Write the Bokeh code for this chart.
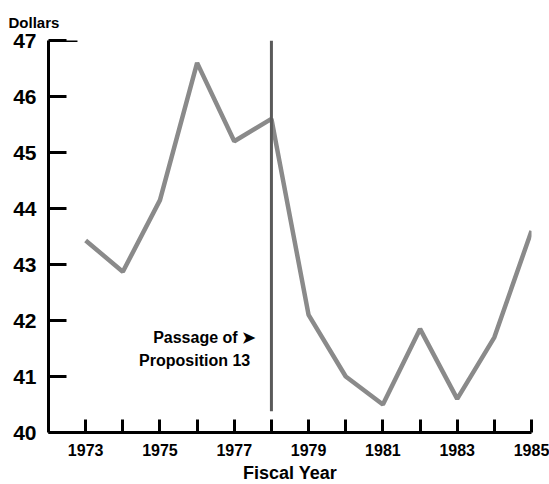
from bokeh.plotting import figure
from bokeh.models import Label, FixedTicker, Range1d, Title
from bokeh.embed import file_html
from bokeh.resources import INLINE

years = [1973, 1974, 1975, 1976, 1977, 1978, 1979, 1980, 1981, 1982, 1983, 1984, 1985]
dollars = [43.43, 42.87, 44.15, 46.6, 45.2, 45.6, 42.1, 41.0, 40.5, 41.85, 40.6, 41.7, 43.6]
y_ticks = [40, 41, 42, 43, 44, 45, 46, 47]
x_label_years = [1973, 1975, 1977, 1979, 1981, 1983, 1985]
event_year = 1978
event_span = [40.38, 47.0]

FONT = "Liberation Sans"

p = figure(width=549, height=484, output_backend="svg", toolbar_location=None,
           x_range=Range1d(1972.0, 1985.0), y_range=Range1d(40, 47),
           min_border_left=48, min_border_right=18, min_border_top=40, min_border_bottom=51)
p.outline_line_color = None
p.grid.visible = False
p.background_fill_color = "white"

# axes
for ax in (p.xaxis[0], p.yaxis[0]):
    ax.axis_line_width = 3
    ax.axis_line_color = "black"
    ax.major_tick_line_width = 3
    ax.major_tick_line_color = "black"
    ax.minor_tick_line_color = None
    ax.major_tick_out = 0
    ax.major_label_text_font = FONT
    ax.major_label_text_font_style = "bold"
    ax.major_label_text_color = "black"

p.xaxis.ticker = FixedTicker(ticks=years)
p.xaxis.major_label_overrides = {y: (str(y) if y in x_label_years else "") for y in years}
p.xaxis.major_tick_in = 13
p.xaxis.major_label_text_font_size = "16px"
p.xaxis.major_label_standoff = 11

p.yaxis.ticker = FixedTicker(ticks=y_ticks)
p.yaxis.major_tick_in = 18
p.yaxis.major_label_text_font_size = "21px"
p.yaxis.major_label_standoff = 12

# longer top tick at 47
p.segment(x0=[1972.0], y0=[47], x1=[1972.78], y1=[47], line_color="black", line_width=3)

# data line
p.line(years, dollars, line_color="#8a8a8a", line_width=4.5)

# event line
p.segment(x0=[event_year], y0=[event_span[0]], x1=[event_year], y1=[event_span[1]],
          line_color="#5a5a5a", line_width=3)

p.add_layout(Label(x=1977.56, y=41.69, text="Passage of ➤", text_align="right",
                   text_baseline="alphabetic", text_font=FONT, text_font_style="bold",
                   text_font_size="16px", text_color="black"))
p.add_layout(Label(x=1977.43, y=41.28, text="Proposition 13", text_align="right",
                   text_baseline="alphabetic", text_font=FONT, text_font_style="bold",
                   text_font_size="16px", text_color="black"))

p.add_layout(Title(text="Fiscal Year", align="center", offset=11, standoff=4,
                   text_font=FONT, text_font_style="bold", text_font_size="18px",
                   text_color="black"), "below")
p.add_layout(Title(text="Dollars", align="left", offset=-40, standoff=20,
                   text_font=FONT, text_font_style="bold", text_font_size="15px",
                   text_color="black"), "above")

open("out.html", "w").write(file_html(p, INLINE))
